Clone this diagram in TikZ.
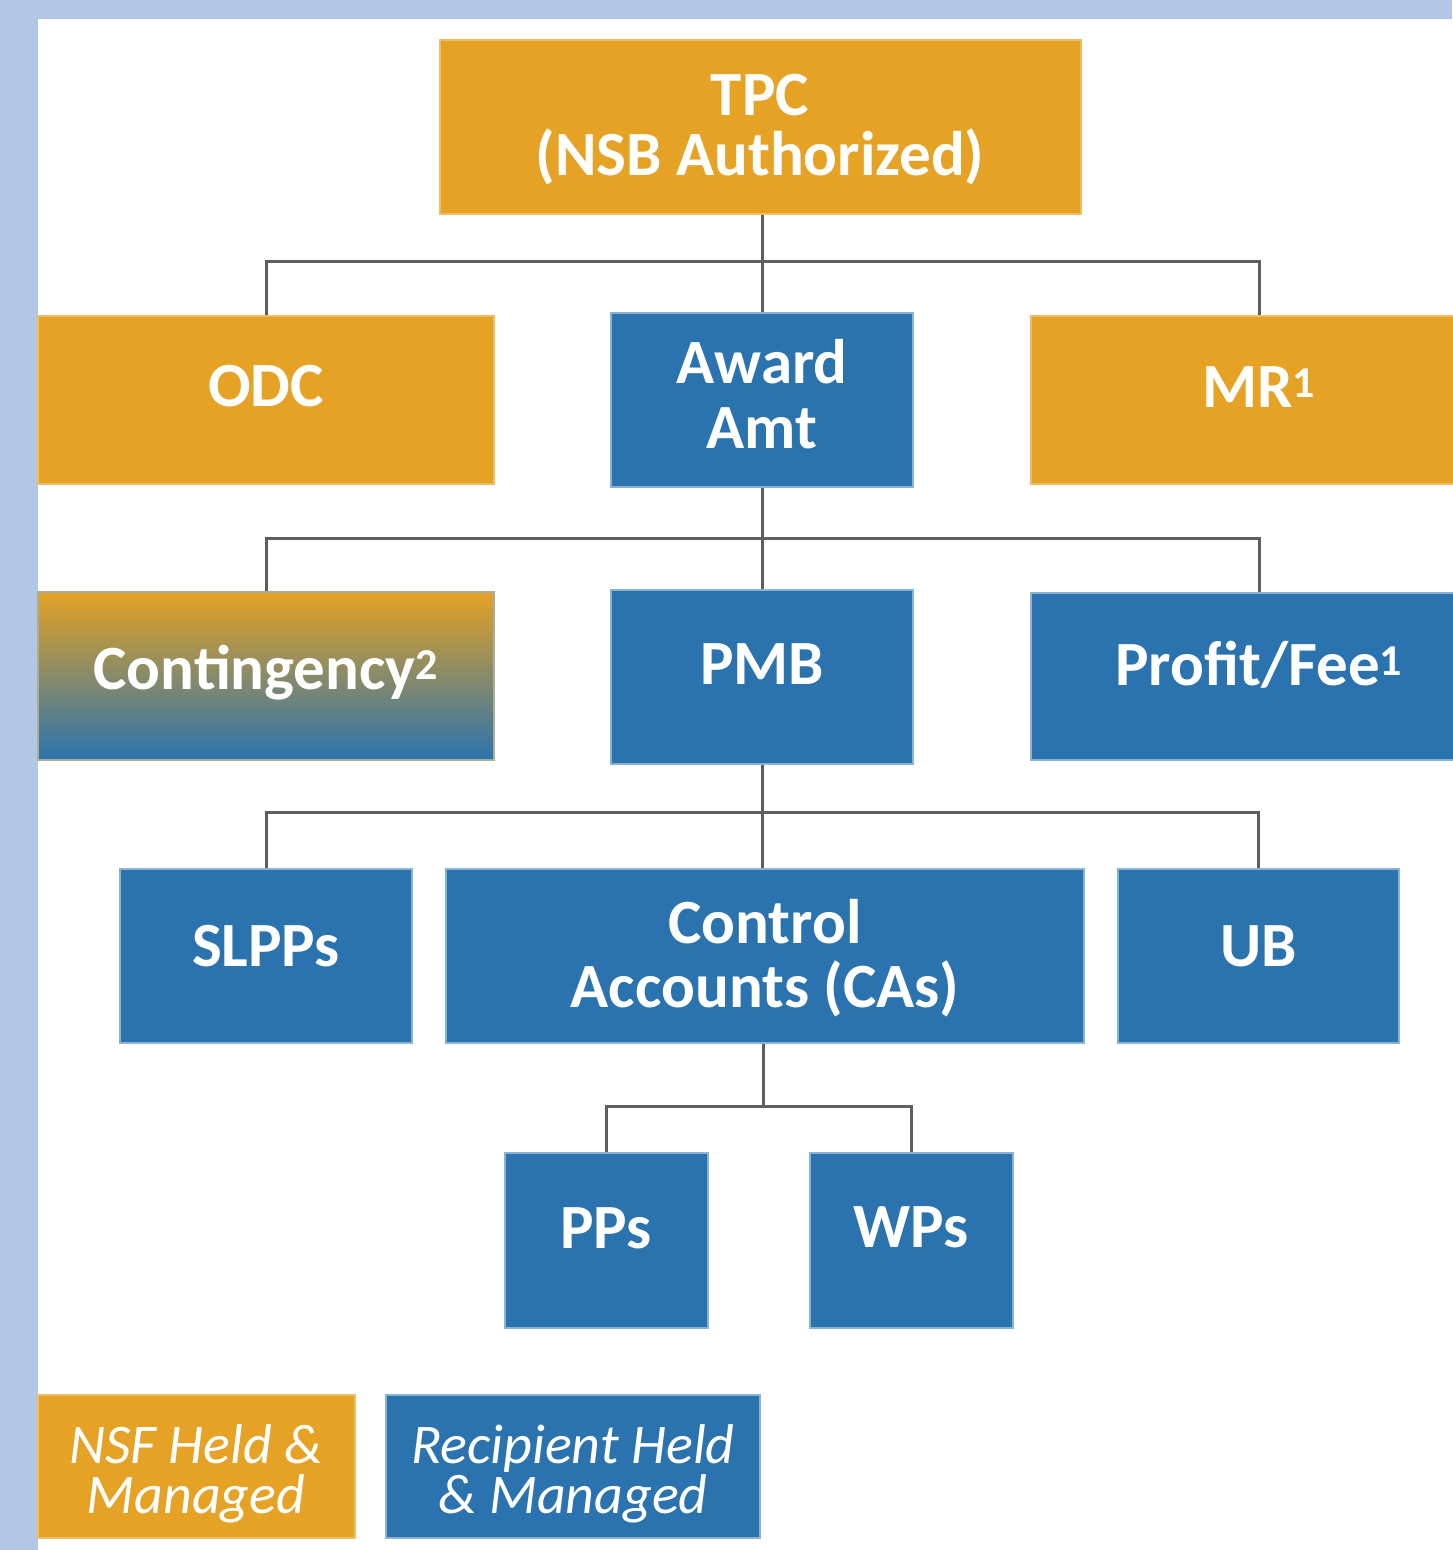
\documentclass[tikz,border=0pt]{standalone}
\usepackage{fontspec}
\setmainfont{Carlito}
\usetikzlibrary{fit}
\definecolor{nsforange}{HTML}{E5A224}
\definecolor{recblue}{HTML}{2A73AE}
\definecolor{frameblue}{HTML}{B2C6E6}
\definecolor{connector}{HTML}{5E5E5E}
\tikzset{
  box/.style={rectangle, inner sep=0pt, line width=1.5pt},
  obox/.style={box, fill=nsforange, draw=nsforange!70!white},
  bbox/.style={box, fill=recblue, draw=recblue!55!white},
  gbox/.style={box, top color=nsforange, bottom color=recblue, draw=nsforange!50!recblue!70!white},
  lbl/.style={text=white, font=\fontsize{63}{60}\selectfont\bfseries, align=center, inner sep=0pt, anchor=base},
  leg/.style={text=white, font=\fontsize{56}{50}\selectfont\itshape, align=center, inner sep=0pt, anchor=base},
  conn/.style={draw=connector, line width=3pt},
}
\begin{document}
\begin{tikzpicture}[x=1pt,y=-1pt]
\useasboundingbox (0,0) rectangle (1452,1550);
\fill[frameblue] (0,0) rectangle (1452,1550);
\fill[white] (38,19) rectangle (1452,1550);

% boxes
\node[obox, fit={(440,40)(1081,214)}] (tpc) {};
\node[obox, fit={(38,316)(494,484)}] (odc) {};
\node[bbox, fit={(611,313)(913,487)}] (award) {};
\node[obox, fit={(1031,316)(1487,484)}] (mr) {};
\node[gbox, fit={(38,592)(494,760)}] (cont) {};
\node[bbox, fit={(611,590)(913,764)}] (pmb) {};
\node[bbox, fit={(1031,593)(1487,760)}] (profit) {};
\node[bbox, fit={(120,869)(412,1043)}] (slpp) {};
\node[bbox, fit={(446,869)(1084,1043)}] (ca) {};
\node[bbox, fit={(1118,869)(1399,1043)}] (ub) {};
\node[bbox, fit={(505,1153)(708,1328)}] (pps) {};
\node[bbox, fit={(810,1153)(1013,1328)}] (wps) {};
\node[obox, fit={(38,1395)(355,1538)}] (legnsf) {};
\node[bbox, fit={(386,1395)(760,1538)}] (legrec) {};

% connectors
\coordinate (bar1) at (763,261);
\coordinate (bar2) at (763,538);
\coordinate (bar3) at (763,812);
\coordinate (bar4) at (763,1106);
\draw[conn] (award.north |- tpc.south) -- (award.north);
\draw[conn] (odc.north) |- (bar1) -| (mr.north);
\draw[conn] (award.south) -- (pmb.north);
\draw[conn] (cont.north) |- (bar2) -| (profit.north);
\draw[conn] (pmb.south) -- (pmb.south |- ca.north);
\draw[conn] (slpp.north) |- (bar3) -| (ub.north);
\draw[conn] (bar4 |- ca.south) -- (bar4);
\draw[conn] (pps.north) |- (bar4) -| (wps.north);

% labels (anchor=base is the baseline of the last line)
\node[lbl] (tpct) at (760,175) {TPC\\(NSB Authorized)};
\node[lbl] (odct) at (266,406) {ODC};
\node[lbl] (awardt) at (762,448) {Award\\[5pt]Amt};
\node[lbl] (mrt) at (1259,407) {MR\textsuperscript{1}};
\node[lbl] (contt) at (266,689) {Contingency\textsuperscript{2}};
\node[lbl] (pmbt) at (762,684) {PMB};
\node[lbl] (profitt) at (1259,685) {Profit/Fee\textsuperscript{1}};
\node[lbl] (slppt) at (266,966) {SLPPs};
\node[lbl] (cat) at (765,1007) {Control\\[4pt]Accounts (CAs)};
\node[lbl] (ubt) at (1259,966) {UB};
\node[lbl] (ppst) at (606,1248) {PPs};
\node[lbl] (wpst) at (911,1247) {WPs};
\node[leg] (legnsft) at (196,1513) {NSF Held \&\\Managed};
\node[leg] (legrect) at (573,1513) {Recipient Held\\\& Managed};
\end{tikzpicture}
\end{document}
